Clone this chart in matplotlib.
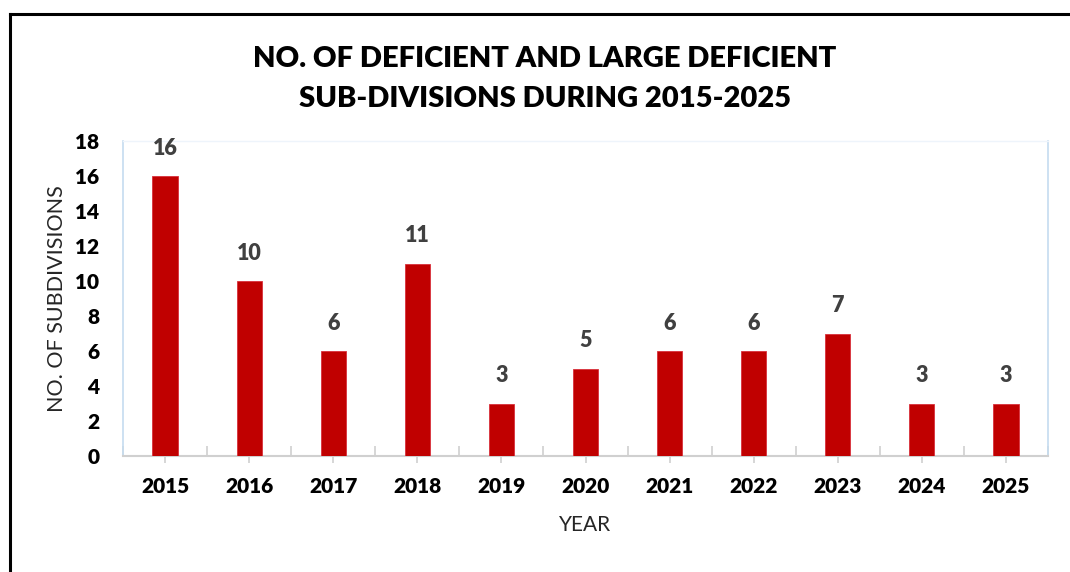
import matplotlib
matplotlib.use("Agg")
import matplotlib.pyplot as plt
from matplotlib.lines import Line2D
from matplotlib.ticker import MultipleLocator, FixedLocator
import numpy as np

years = ["2015", "2016", "2017", "2018", "2019", "2020",
         "2021", "2022", "2023", "2024", "2025"]
counts = [16, 10, 6, 11, 3, 5, 6, 6, 7, 3, 3]

title_text = "NO. OF DEFICIENT AND LARGE DEFICIENT\nSUB-DIVISIONS DURING 2015-2025"
x_label = "YEAR"
y_label = "NO. OF SUBDIVISIONS"

plt.rcParams["font.family"] = ["Lato", "DejaVu Sans"]

W, H = 1070, 572
fig = plt.figure(figsize=(W / 100, H / 100), dpi=100)
fig.patch.set_facecolor("white")

# outer frame (top and left edges)
fig.add_artist(Line2D([9.5 / W, 9.5 / W], [0, 1 - 14 / H], color="black", lw=2.2,
                      transform=fig.transFigure))
fig.add_artist(Line2D([9.5 / W, 1], [1 - 14 / H, 1 - 14 / H], color="black", lw=2.2,
                      transform=fig.transFigure))

left, right, bottom, top = 123 / W, 1048 / W, 1 - 456 / H, 1 - 141 / H
ax = fig.add_axes([left, bottom, right - left, top - bottom])

x = np.arange(len(years))
bars = ax.bar(x, counts, width=0.30, color="#C00000", edgecolor="#D9303A",
              linewidth=0.6, zorder=3)

for xi, v in zip(x, counts):
    ax.annotate(str(v), (xi, v), xytext=(0, 12.5), textcoords="offset points",
                ha="center", va="bottom", fontsize=15.5, fontweight="heavy",
                color="#404040")

ax.set_xlim(-0.5, len(years) - 0.5)
ax.set_ylim(0, 18)
ax.yaxis.set_major_locator(MultipleLocator(2))

ax.set_xticks(x)
ax.set_xticklabels(years, fontsize=15, fontweight="heavy", color="black")
ax.xaxis.set_minor_locator(FixedLocator(np.arange(-0.5, len(years), 1.0)))
ax.tick_params(axis="x", which="major", direction="out", length=5, width=1.2,
               color="#D0D0D0", pad=10)
ax.tick_params(axis="x", which="minor", direction="in", length=7, width=1.2,
               color="#D0D0D0")
ax.tick_params(axis="y", which="both", length=0, pad=17, labelsize=15)
for lab in ax.get_yticklabels():
    lab.set_fontweight("heavy")

for side in ("left", "right"):
    ax.spines[side].set_color("#C5DCF0")
    ax.spines[side].set_linewidth(1.2)
ax.spines["top"].set_color("#EEF4FB")
ax.spines["top"].set_linewidth(1.0)
ax.spines["bottom"].set_color("#D0D0D0")
ax.spines["bottom"].set_linewidth(1.5)

ax.set_xlabel(x_label, fontsize=15, color="#262626", labelpad=14)
ax.set_ylabel(y_label, fontsize=15.5, color="#262626", labelpad=6)

fig.text(545 / W, 1 - 79 / H, title_text, ha="center", va="center",
         fontsize=21, fontweight="heavy", linespacing=1.65, color="black")

fig.savefig("out.png", dpi=100, facecolor="white")
